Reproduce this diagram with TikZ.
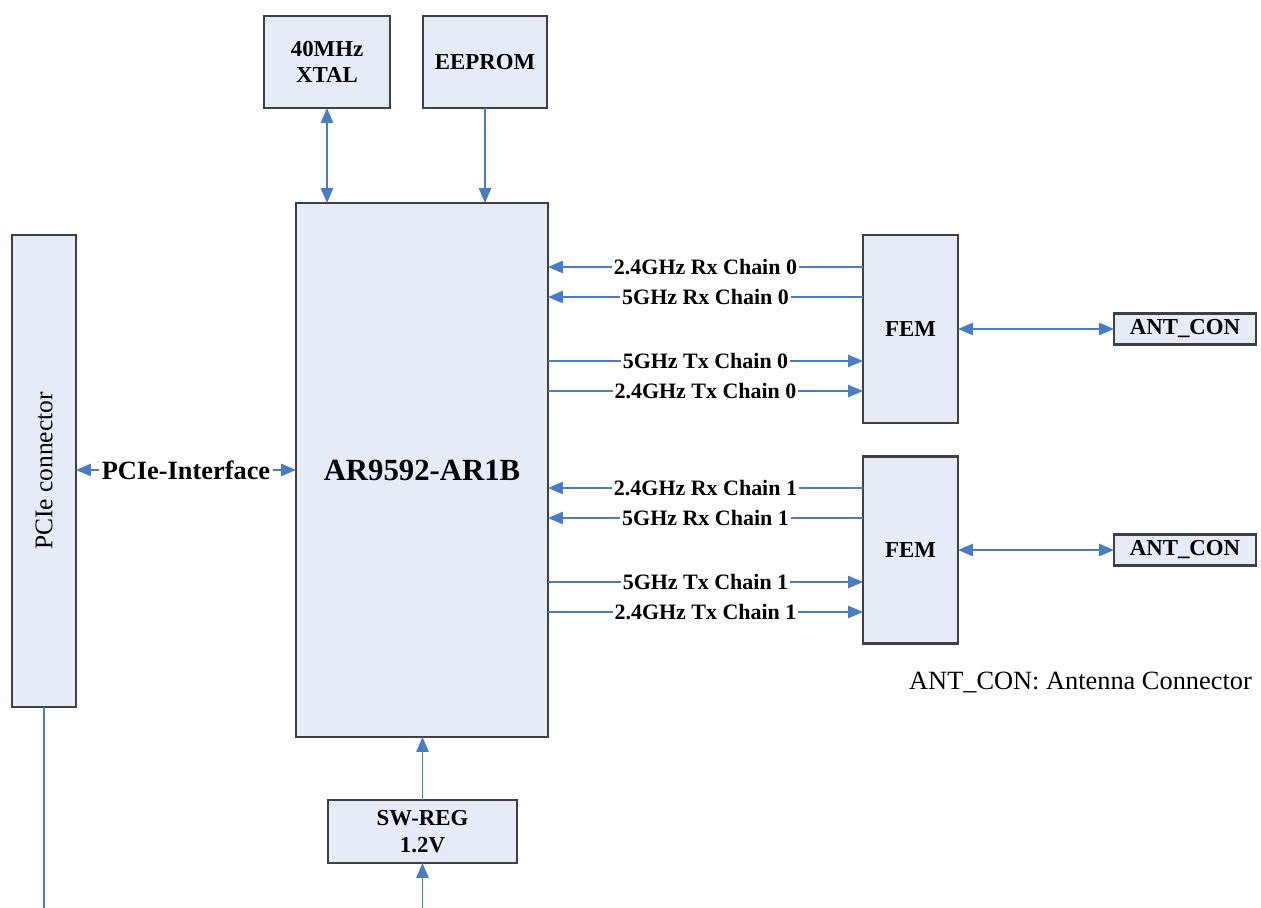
\documentclass[tikz,border=0pt]{standalone}
\usepackage{fontspec}
\setmainfont{Liberation Serif}
\usepackage{tikz}
\usetikzlibrary{arrows.meta,calc}
\definecolor{blkfill}{HTML}{E6ECF7}
\definecolor{sigcolor}{HTML}{4A7CC4}
\newcommand{\boxline}{1.3pt}
\newcommand{\sigline}{0.9pt}
\newcommand{\dy}{1.24}
\newcommand{\dz}{0.64}
\tikzset{
  blk/.style={draw=black!75, line width=\boxline, fill=blkfill, inner sep=0pt, outer sep=0pt, align=center, font=\fontsize{13}{15}\selectfont\bfseries},
  sig/.style={draw=sigcolor, line width=\sigline},
  tip/.style={-{Triangle[length=8.5pt,width=7pt]}},
  tips/.style={{Triangle[length=8.5pt,width=7pt]}-{Triangle[length=8.5pt,width=7pt]}},
  chainlbl/.style={fill=white, inner sep=1pt, font=\fontsize{12.5}{14}\selectfont\bfseries}
}

\begin{document}
\begin{tikzpicture}
\useasboundingbox (0,0) rectangle (25.22,-18.16);
\node[blk, minimum width=2.52cm, minimum height=1.84cm] (xtal) at (6.54, -1.24) {40MHz\\XTAL};
\node[blk, minimum width=2.48cm, minimum height=1.84cm] (eeprom) at (9.70, -1.24) {EEPROM};
\node[blk, minimum width=5.04cm, minimum height=10.68cm, font=\fontsize{17.5}{20}\selectfont\bfseries] (chip) at (8.44, -9.40) {AR9592-AR1B};
\node[blk, minimum width=1.28cm, minimum height=9.44cm] (pcie) at (0.88, -9.42) {};
\node[rotate=90, font=\fontsize{14.5}{16}\selectfont] (pcietext) at (pcie) {PCIe connector};
\node[blk, minimum width=1.90cm, minimum height=3.76cm] (fem0) at (18.21, -6.58) {FEM};
\node[blk, minimum width=1.90cm, minimum height=3.74cm] (fem1) at (18.21, -11.00) {FEM};
\node[blk, minimum width=2.84cm, minimum height=0.62cm] (ant0) at (23.70, -6.58) {ANT\_CON};
\node[blk, minimum width=2.84cm, minimum height=0.62cm] (ant1) at (23.70, -11.00) {ANT\_CON};
\node[blk, minimum width=3.78cm, minimum height=1.26cm] (swreg) at (8.45, -16.63) {SW-REG\\1.2V};
\node[anchor=east, font=\fontsize{15}{17}\selectfont] (note) at (25.16, -13.64) {ANT\_CON: Antenna Connector};
\coordinate (pciebot) at (0.88, -18.16);
\coordinate (regin) at (8.45, -18.16);
%top
\draw[sig, tips] (xtal.south) -- (xtal.south |- chip.north);
\draw[sig, tip] (eeprom.south) -- (eeprom.south |- chip.north);
%pcie
\draw[sig, tips] (pcie.east |- chip.west) -- node[fill=white, inner sep=1.5pt, font=\fontsize{15}{17}\selectfont\bfseries] (pcielbl) {PCIe-Interface} (chip.west);
\draw[sig] (pcie.south) -- (pciebot);
%power
\draw[sig, tip] (swreg.north) -- (swreg.north |- chip.south);
\draw[sig, tip] (regin) -- (swreg.south);
%chains
\foreach \f/\c in {fem0/0, fem1/1}{
  \path (\f.west) ++(0,\dy) coordinate (\f r24);
  \path (\f.west) ++(0,\dz) coordinate (\f r5);
  \path (\f.west) ++(0,-\dz) coordinate (\f t5);
  \path (\f.west) ++(0,-\dy) coordinate (\f t24);
  \draw[sig, tip] (\f r24) -- node[chainlbl] {2.4GHz Rx Chain \c} (\f r24 -| chip.east);
  \draw[sig, tip] (\f r5) -- node[chainlbl] {5GHz Rx Chain \c} (\f r5 -| chip.east);
  \draw[sig, tip] (\f t5 -| chip.east) -- node[chainlbl] {5GHz Tx Chain \c} (\f t5);
  \draw[sig, tip] (\f t24 -| chip.east) -- node[chainlbl] {2.4GHz Tx Chain \c} (\f t24);
}
%antennas
\draw[sig, tips] (fem0.east) -- (ant0.west);
\draw[sig, tips] (fem1.east) -- (ant1.west);
\end{tikzpicture}
\end{document}
